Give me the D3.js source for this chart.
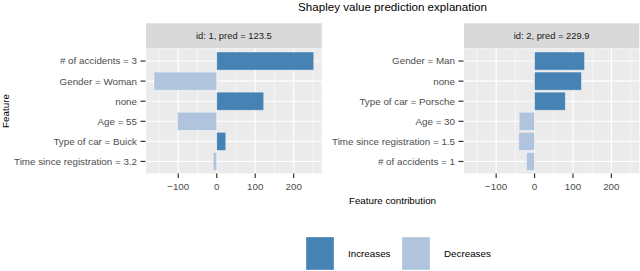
<!DOCTYPE html>
<html><head><meta charset="utf-8">
<script src="https://cdn.jsdelivr.net/npm/d3@7"></script>
<style>body{margin:0;background:#fff}svg{display:block;font-family:"Liberation Sans",Arial,sans-serif}</style>
</head><body><svg id="c" width="640" height="271"></svg>
<script>
const title = "Shapley value prediction explanation";
const panelTitles = ["id: 1, pred = 123.5", "id: 2, pred = 229.9"];
const features1 = ["# of accidents = 3","Gender = Woman","none","Age = 55","Type of car = Buick","Time since registration = 3.2"];
const values1 = [252, -163, 122, -102, 23.5, -9];
const features2 = ["Gender = Man","none","Type of car = Porsche","Age = 30","Time since registration = 1.5","# of accidents = 1"];
const values2 = [130, 122, 80, -40, -41, -21];
const xTicks = [-100, 0, 100, 200];
const xMinor = [-150, -50, 50, 150, 250];
const legendLabels = ["Increases", "Decreases"];
const colors = {Increases: "#4682B4", Decreases: "#B0C4DE"};

const svg = d3.select("#c");
const all = values1.concat(values2);
const lo = d3.min(all), hi = d3.max(all), ex = (hi - lo) * 0.05;
const panels = [
  {x0: 146, x1: 321.7, feats: features1, vals: values1, title: panelTitles[0]},
  {x0: 464, x1: 639.3, feats: features2, vals: values2, title: panelTitles[1]}
];
const stripTop = 23.3, stripBot = 48.4, plotTop = 49, plotBot = 173.5;
const axisFs = 9.8;

panels.forEach(p => {
  const x = d3.scaleLinear().domain([lo - ex, hi + ex]).range([p.x0, p.x1]);
  const y = d3.scalePoint().domain(p.feats).range([plotTop, plotBot]).padding(0.6);
  const step = y.step();
  const g = svg.append("g");
  g.append("rect").attr("x", p.x0).attr("y", stripTop).attr("width", p.x1 - p.x0).attr("height", stripBot - stripTop).attr("fill", "#D9D9D9");
  g.append("text").attr("x", (p.x0 + p.x1) / 2).attr("y", (stripTop + stripBot) / 2).attr("dy", "0.35em")
    .attr("text-anchor", "middle").attr("font-size", 9.4).attr("fill", "#1A1A1A").text(p.title);
  g.append("rect").attr("x", p.x0).attr("y", plotTop).attr("width", p.x1 - p.x0).attr("height", plotBot - plotTop).attr("fill", "#EBEBEB");
  g.selectAll(".mn").data(xMinor).join("line").attr("x1", d => x(d)).attr("x2", d => x(d)).attr("y1", plotTop).attr("y2", plotBot)
    .attr("stroke", "#fff").attr("stroke-width", 0.55);
  g.selectAll(".mj").data(xTicks).join("line").attr("x1", d => x(d)).attr("x2", d => x(d)).attr("y1", plotTop).attr("y2", plotBot)
    .attr("stroke", "#fff").attr("stroke-width", 1.1);
  g.selectAll(".hj").data(p.feats).join("line").attr("x1", p.x0).attr("x2", p.x1).attr("y1", d => y(d)).attr("y2", d => y(d))
    .attr("stroke", "#fff").attr("stroke-width", 1.1);
  const data = p.feats.map((f, i) => ({f, v: p.vals[i]}));
  g.selectAll(".bar").data(data).join("rect")
    .attr("x", d => x(Math.min(0, d.v))).attr("width", d => Math.abs(x(d.v) - x(0)))
    .attr("y", d => y(d.f) - step * 0.45).attr("height", step * 0.9)
    .attr("fill", d => d.v >= 0 ? colors.Increases : colors.Decreases)
    .attr("stroke", "rgba(255,255,255,0.45)").attr("stroke-width", 0.8);
  g.selectAll(".yt").data(p.feats).join("line").attr("x1", p.x0 - 5.5).attr("x2", p.x0 - 0.5).attr("y1", d => y(d)).attr("y2", d => y(d))
    .attr("stroke", "#333").attr("stroke-width", 1.2);
  g.selectAll(".yl").data(p.feats).join("text").attr("x", p.x0 - 9).attr("y", d => y(d)).attr("dy", "0.35em")
    .attr("text-anchor", "end").attr("font-size", axisFs).attr("fill", "#4D4D4D").text(d => d);
  g.selectAll(".xt").data(xTicks).join("line").attr("x1", d => x(d)).attr("x2", d => x(d)).attr("y1", plotBot).attr("y2", plotBot + 4.5)
    .attr("stroke", "#333").attr("stroke-width", 1.2);
  g.selectAll(".xl").data(xTicks).join("text").attr("x", d => x(d)).attr("y", plotBot + 13.5).attr("dy", "0.35em")
    .attr("text-anchor", "middle").attr("font-size", axisFs).attr("fill", "#4D4D4D").text(d => d < 0 ? "\u2212" + Math.abs(d) : d);
});

svg.append("text").attr("x", 392.5).attr("y", 7).attr("dy", "0.35em").attr("text-anchor", "middle")
  .attr("font-size", 11.6).attr("fill", "#000").text(title);
svg.append("text").attr("x", 392.5).attr("y", 201).attr("dy", "0.35em").attr("text-anchor", "middle")
  .attr("font-size", 9.8).attr("fill", "#000").text("Feature contribution");
svg.append("text").attr("transform", "translate(6,111) rotate(-90)").attr("dy", "0.35em").attr("text-anchor", "middle")
  .attr("font-size", 9.8).attr("fill", "#000").text("Feature");

const legX = [306, 402], keyW = 28, keyTop = 237, keyH = 33;
legendLabels.forEach((l, i) => {
  svg.append("rect").attr("x", legX[i]).attr("y", keyTop).attr("width", keyW).attr("height", keyH)
    .attr("fill", colors[l]).attr("stroke", "rgba(255,255,255,0.45)").attr("stroke-width", 0.8);
  svg.append("text").attr("x", legX[i] + keyW + 14).attr("y", keyTop + keyH / 2).attr("dy", "0.35em")
    .attr("font-size", 9.8).attr("fill", "#000").text(l);
});
</script></body></html>
